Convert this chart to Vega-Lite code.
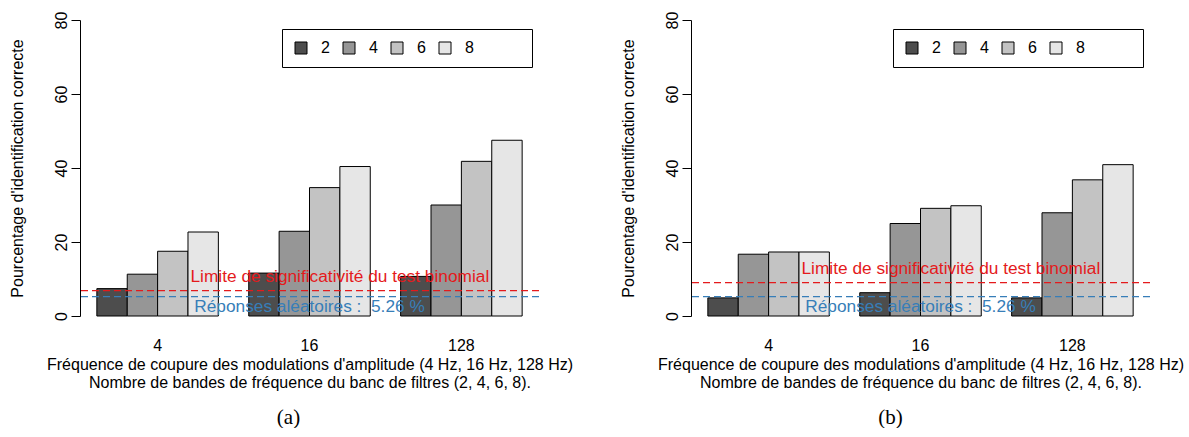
{
  "$schema": "https://vega.github.io/schema/vega-lite/v6.json",
  "padding": {"left": 9, "top": 11, "right": 0, "bottom": 0},
  "bounds": "flush",
  "spacing": 152,
  "background": "white",
  "config": {
    "font": "Liberation Sans",
    "view": {"stroke": null},
    "axis": {
      "labelFont": "Liberation Sans",
      "titleFont": "Liberation Sans",
      "labelFontSize": 16,
      "titleFontSize": 16,
      "titleFontWeight": "normal",
      "labelColor": "black",
      "titleColor": "black",
      "grid": false
    },
    "legend": {
      "labelFont": "Liberation Sans",
      "titleFont": "Liberation Sans"
    }
  },
  "datasets": {
    "a": [
      {"freq": "4", "bands": "2", "pct": 7.4},
      {"freq": "4", "bands": "4", "pct": 11.3},
      {"freq": "4", "bands": "6", "pct": 17.5},
      {"freq": "4", "bands": "8", "pct": 22.7},
      {"freq": "16", "bands": "2", "pct": 11.6},
      {"freq": "16", "bands": "4", "pct": 22.9},
      {"freq": "16", "bands": "6", "pct": 34.7},
      {"freq": "16", "bands": "8", "pct": 40.4},
      {"freq": "128", "bands": "2", "pct": 10.7},
      {"freq": "128", "bands": "4", "pct": 30.0},
      {"freq": "128", "bands": "6", "pct": 41.8},
      {"freq": "128", "bands": "8", "pct": 47.5}
    ],
    "b": [
      {"freq": "4", "bands": "2", "pct": 4.9},
      {"freq": "4", "bands": "4", "pct": 16.7},
      {"freq": "4", "bands": "6", "pct": 17.3},
      {"freq": "4", "bands": "8", "pct": 17.3},
      {"freq": "16", "bands": "2", "pct": 6.3},
      {"freq": "16", "bands": "4", "pct": 25.0},
      {"freq": "16", "bands": "6", "pct": 29.1},
      {"freq": "16", "bands": "8", "pct": 29.8},
      {"freq": "128", "bands": "2", "pct": 4.9},
      {"freq": "128", "bands": "4", "pct": 27.9},
      {"freq": "128", "bands": "6", "pct": 36.8},
      {"freq": "128", "bands": "8", "pct": 40.9}
    ]
  },
  "resolve": {"scale": {"color": "independent", "y": "independent", "x": "independent"}, "legend": {"color": "independent"}},
  "hconcat": [
    {
      "width": 459,
      "height": 296,
      "title": {"text": "(a)", "orient": "bottom", "font": "Liberation Serif", "fontSize": 21, "fontWeight": "normal", "color": "black", "frame": "group", "dx": -21, "offset": 17},
      "layer": [
        {
          "data": {"name": "a"},
          "mark": {"type": "bar", "stroke": "black", "strokeWidth": 1},
          "encoding": {
            "x": {"field": "freq", "type": "nominal", "sort": ["4", "16", "128"],
              "scale": {"paddingInner": 0.2, "paddingOuter": 0.111},
              "axis": {"title": ["Fréquence de coupure des modulations d'amplitude (4 Hz, 16 Hz, 128 Hz)", "Nombre de bandes de fréquence du banc de filtres (2, 4, 6, 8)."],
                "labelAngle": 0, "domain": false, "ticks": false, "tickSize": 0, "labelPadding": 21, "titlePadding": 3, "titleLineHeight": 18}},
            "xOffset": {"field": "bands", "type": "nominal", "sort": ["2", "4", "6", "8"], "scale": {"paddingInner": 0, "paddingOuter": 0}},
            "y": {"field": "pct", "type": "quantitative", "scale": {"domain": [0, 80], "nice": false},
              "axis": {"title": "Pourcentage d'identification correcte", "values": [0, 20, 40, 60, 80], "tickSize": 9, "labelAngle": -90, "labelAlign": "center", "labelBaseline": "bottom", "labelPadding": 2, "titlePadding": 28, "domainColor": "black", "tickColor": "black"}},
            "color": {"field": "bands", "type": "nominal", "sort": ["2", "4", "6", "8"],
              "scale": {"domain": ["2", "4", "6", "8"], "range": ["#4D4D4D", "#969696", "#C3C3C3", "#E6E6E6"]},
              "legend": {"orient": "none", "legendX": 202, "legendY": 9, "direction": "horizontal", "title": "\u00a0", "titleOrient": "right", "titlePadding": 47, "symbolType": "square", "symbolSize": 144, "symbolStrokeColor": "black", "symbolStrokeWidth": 1, "symbolOpacity": 1, "labelFontSize": 16, "labelColor": "black", "labelOffset": 12, "columnPadding": 11, "padding": 11, "strokeColor": "black", "fillColor": "white"}}
          }
        },
        {
          "data": {"values": [{}]},
          "mark": {"type": "rule", "color": "#E41A1C", "strokeDash": [7, 4], "strokeWidth": 1.2},
          "encoding": {"y": {"datum": 6.85, "type": "quantitative"}}
        },
        {
          "data": {"values": [{}]},
          "mark": {"type": "rule", "color": "#377EB8", "strokeDash": [7, 4], "strokeWidth": 1.2},
          "encoding": {"y": {"datum": 5.26, "type": "quantitative"}}
        },
        {
          "data": {"values": [{}]},
          "mark": {"type": "text", "color": "#E41A1C", "fontSize": 17.3, "baseline": "bottom", "align": "center", "dy": -5},
          "encoding": {
            "x": {"datum": 9, "type": "quantitative", "scale": {"domain": [0.44, 15.56], "nice": false, "zero": false}, "axis": null},
            "y": {"datum": 6.85, "type": "quantitative"},
            "text": {"value": "Limite de significativité du test binomial"}
          }
        },
        {
          "data": {"values": [{}]},
          "mark": {"type": "text", "color": "#377EB8", "fontSize": 17.3, "baseline": "top", "align": "center", "dy": 1.5},
          "encoding": {
            "x": {"datum": 8, "type": "quantitative", "scale": {"domain": [0.44, 15.56], "nice": false, "zero": false}, "axis": null},
            "y": {"datum": 5.26, "type": "quantitative"},
            "text": {"value": "Réponses aléatoires :\u00a0 5.26 %"}
          }
        }
      ],
      "resolve": {"scale": {"x": "independent"}}
    },
    {
      "width": 459,
      "height": 296,
      "title": {"text": "(b)", "orient": "bottom", "font": "Liberation Serif", "fontSize": 21, "fontWeight": "normal", "color": "black", "frame": "group", "dx": -30, "offset": 17},
      "layer": [
        {
          "data": {"name": "b"},
          "mark": {"type": "bar", "stroke": "black", "strokeWidth": 1},
          "encoding": {
            "x": {"field": "freq", "type": "nominal", "sort": ["4", "16", "128"],
              "scale": {"paddingInner": 0.2, "paddingOuter": 0.111},
              "axis": {"title": ["Fréquence de coupure des modulations d'amplitude (4 Hz, 16 Hz, 128 Hz)", "Nombre de bandes de fréquence du banc de filtres (2, 4, 6, 8)."],
                "labelAngle": 0, "domain": false, "ticks": false, "tickSize": 0, "labelPadding": 21, "titlePadding": 3, "titleLineHeight": 18}},
            "xOffset": {"field": "bands", "type": "nominal", "sort": ["2", "4", "6", "8"], "scale": {"paddingInner": 0, "paddingOuter": 0}},
            "y": {"field": "pct", "type": "quantitative", "scale": {"domain": [0, 80], "nice": false},
              "axis": {"title": "Pourcentage d'identification correcte", "values": [0, 20, 40, 60, 80], "tickSize": 9, "labelAngle": -90, "labelAlign": "center", "labelBaseline": "bottom", "labelPadding": 2, "titlePadding": 28, "domainColor": "black", "tickColor": "black"}},
            "color": {"field": "bands", "type": "nominal", "sort": ["2", "4", "6", "8"],
              "scale": {"domain": ["2", "4", "6", "8"], "range": ["#4D4D4D", "#969696", "#C3C3C3", "#E6E6E6"]},
              "legend": {"orient": "none", "legendX": 202, "legendY": 9, "direction": "horizontal", "title": "\u00a0", "titleOrient": "right", "titlePadding": 47, "symbolType": "square", "symbolSize": 144, "symbolStrokeColor": "black", "symbolStrokeWidth": 1, "symbolOpacity": 1, "labelFontSize": 16, "labelColor": "black", "labelOffset": 12, "columnPadding": 11, "padding": 11, "strokeColor": "black", "fillColor": "white"}}
          }
        },
        {
          "data": {"values": [{}]},
          "mark": {"type": "rule", "color": "#E41A1C", "strokeDash": [7, 4], "strokeWidth": 1.2},
          "encoding": {"y": {"datum": 9.0, "type": "quantitative"}}
        },
        {
          "data": {"values": [{}]},
          "mark": {"type": "rule", "color": "#377EB8", "strokeDash": [7, 4], "strokeWidth": 1.2},
          "encoding": {"y": {"datum": 5.26, "type": "quantitative"}}
        },
        {
          "data": {"values": [{}]},
          "mark": {"type": "text", "color": "#E41A1C", "fontSize": 17.3, "baseline": "bottom", "align": "center", "dy": -5},
          "encoding": {
            "x": {"datum": 9, "type": "quantitative", "scale": {"domain": [0.44, 15.56], "nice": false, "zero": false}, "axis": null},
            "y": {"datum": 9.0, "type": "quantitative"},
            "text": {"value": "Limite de significativité du test binomial"}
          }
        },
        {
          "data": {"values": [{}]},
          "mark": {"type": "text", "color": "#377EB8", "fontSize": 17.3, "baseline": "top", "align": "center", "dy": 1.5},
          "encoding": {
            "x": {"datum": 8, "type": "quantitative", "scale": {"domain": [0.44, 15.56], "nice": false, "zero": false}, "axis": null},
            "y": {"datum": 5.26, "type": "quantitative"},
            "text": {"value": "Réponses aléatoires :\u00a0 5.26 %"}
          }
        }
      ],
      "resolve": {"scale": {"x": "independent"}}
    }
  ]
}
